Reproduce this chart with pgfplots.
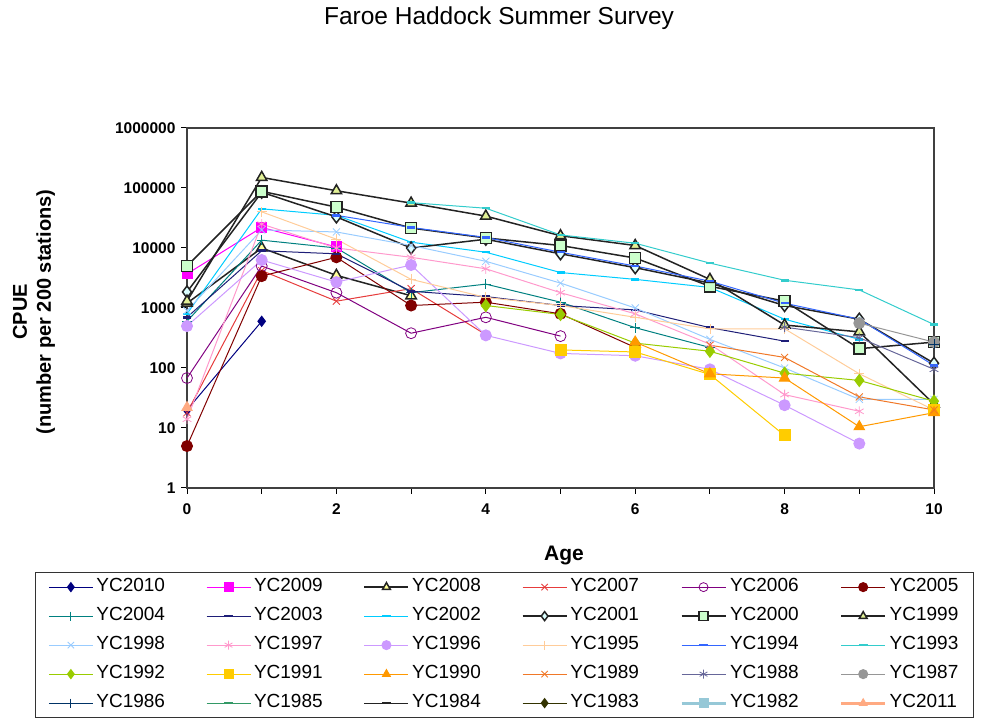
\documentclass[border=0pt]{standalone}
\usepackage{pgfplots}
\pgfplotsset{compat=1.18}
\usepackage{fontspec}
\setmainfont{Liberation Sans}

\definecolor{cNavy}{RGB}{0,0,128}
\definecolor{cMag}{RGB}{255,0,255}
\definecolor{cTriY}{RGB}{255,255,153}
\definecolor{cRed}{RGB}{230,60,60}
\definecolor{cPurp}{RGB}{128,0,128}
\definecolor{cDRed}{RGB}{128,0,0}
\definecolor{cTeal}{RGB}{0,128,128}
\definecolor{cNavy2}{RGB}{30,30,120}
\definecolor{cCyan}{RGB}{0,204,255}
\definecolor{cDiaF}{RGB}{220,255,255}
\definecolor{cSqF}{RGB}{204,255,204}
\definecolor{cTriG}{RGB}{225,240,150}
\definecolor{cLBlue}{RGB}{153,204,255}
\definecolor{cPink}{RGB}{255,153,204}
\definecolor{cLilac}{RGB}{204,153,255}
\definecolor{cPeach}{RGB}{255,204,153}
\definecolor{cBlue}{RGB}{51,102,255}
\definecolor{cTurq}{RGB}{51,204,204}
\definecolor{cYG}{RGB}{153,204,0}
\definecolor{cGold}{RGB}{255,204,0}
\definecolor{cOrange}{RGB}{255,153,0}
\definecolor{cOrange2}{RGB}{240,120,40}
\definecolor{cPG}{RGB}{102,102,153}
\definecolor{cGray}{RGB}{150,150,150}
\definecolor{cDk}{RGB}{0,51,102}
\definecolor{cSea}{RGB}{51,153,102}
\definecolor{cBlk}{RGB}{35,35,35}
\definecolor{cOlive}{RGB}{51,51,0}
\definecolor{cIce}{RGB}{150,200,215}
\definecolor{cSalmon}{RGB}{255,170,130}

\begin{document}
\begin{tikzpicture}
\useasboundingbox (0,0) rectangle (987pt,722pt);
\begin{axis}[
    at={(187pt,234pt)}, anchor=south west,
    scale only axis, width=747pt, height=360pt,
    ymode=log, ymin=1, ymax=1000000, xmin=0, xmax=10,
    ytick={1,10,100,1000,10000,100000,1000000},
    yticklabels={1,10,100,1000,10000,100000,1000000},
    yminorticks=false,
    xtick={0,...,10}, xticklabels={0,,2,,4,,6,,8,,10},
    tick align=outside, major tick length=6pt,
    xtick pos=left, ytick pos=left,
    tick style={black, line width=1pt},
    ticklabel style={font=\fontsize{15.5}{16}\selectfont\bfseries},
    yticklabel style={xshift=-2pt},
    xticklabel style={yshift=-6pt},
    axis line style={line width=1.2pt, black!75},
    clip=false,
    unbounded coords=jump,
    every axis plot/.append style={line width=1pt, mark options={solid, line width=0.8pt}},
    legend columns=6,
    legend cell align=left,
    legend style={at={(-0.2035,-0.2333)}, anchor=north west, draw=black!80,
        line width=0.8pt, font=\fontsize{19}{21}\selectfont,
        inner xsep=13pt, inner ysep=4pt,
        nodes={inner sep=2pt, text height=13.5pt, text depth=4pt},
        row sep=7.5pt,
        /tikz/every even column/.append style={column sep=39pt}},
    legend image code/.code={\draw[mark repeat=2,mark phase=2,#1,mark size=4.5pt]
        plot coordinates {(0pt,0pt) (22pt,0pt) (44pt,0pt)};
        \path (45pt,0pt);},
]
% YC2010
\addplot[cNavy, mark=diamond*, mark size=5pt, mark options={fill=cNavy}]
  coordinates {(0,20) (1,600)};
\addlegendentry{YC2010}
% YC2009
\addplot[cMag, mark=square*, mark size=5pt, mark options={fill=cMag}]
  coordinates {(0,3700) (1,22000) (2,10400)};
\addlegendentry{YC2009}
% YC2008
\addplot[cBlk, line width=1.5pt, mark=triangle*, mark size=6pt, mark options={fill=cTriY, draw=cBlk}]
  coordinates {(0,1200) (1,10000) (2,3500) (3,1600)};
\addlegendentry{YC2008}
% YC2007
\addplot[cRed, mark=x, mark size=5pt]
  coordinates {(0,18) (1,4200) (2,1300) (3,2100) (4,360)};
\addlegendentry{YC2007}
% YC2006
\addplot[cPurp, mark=o, mark size=5.5pt]
  coordinates {(0,68) (1,5000) (2,1800) (3,380) (4,700) (5,340)};
\addlegendentry{YC2006}
% YC2005
\addplot[cDRed, mark=*, mark size=5.5pt, mark options={fill=cDRed}]
  coordinates {(0,5) (1,3400) (2,7000) (3,1100) (4,1250) (5,800) (6,220)};
\addlegendentry{YC2005}
% YC2004
\addplot[cTeal, mark=+, mark size=5pt]
  coordinates {(0,600) (1,13500) (2,10000) (3,1800) (4,2500) (5,1250) (6,470) (7,220)};
\addlegendentry{YC2004}
% YC2003
\addplot[cNavy2, mark=-, mark size=4pt, mark options={line width=2.5pt}]
  coordinates {(0,700) (1,9000) (2,8000) (3,1900) (4,1550) (5,1100) (6,930) (7,470) (8,280)};
\addlegendentry{YC2003}
% YC2002
\addplot[cCyan, mark=-, mark size=4pt, mark options={line width=2.5pt}]
  coordinates {(0,800) (1,45000) (2,35000) (3,12500) (4,8500) (5,3900) (6,3000) (7,2200) (8,650) (9,300)};
\addlegendentry{YC2002}
% YC2001
\addplot[cBlk, line width=1.5pt, mark=diamond*, mark size=6pt, mark options={fill=cDiaF, draw=cBlk}]
  coordinates {(0,1850) (1,85000) (2,33000) (3,10000) (4,14000) (5,8000) (6,4700) (7,2600) (8,1100) (9,650) (10,120)};
\addlegendentry{YC2001}
% YC2000
\addplot[cBlk, line width=1.5pt, mark=square*, mark size=5.5pt, mark options={fill=cSqF, draw=cBlk}]
  coordinates {(0,5000) (1,88000) (2,48000) (3,21500) (4,14700) (5,11000) (6,6800) (7,2300) (8,1300) (9,210) (10,270)};
\addlegendentry{YC2000}
% YC1999
\addplot[cBlk, line width=1.5pt, mark=triangle*, mark size=6pt, mark options={fill=cTriG, draw=cBlk}]
  coordinates {(0,1300) (1,150000) (2,90000) (3,56000) (4,34000) (5,16000) (6,11000) (7,3000) (8,520) (9,400) (10,25)};
\addlegendentry{YC1999}
% YC1998
\addplot[cLBlue, mark=x, mark size=5pt]
  coordinates {(0,900) (1,20000) (2,18500) (3,11000) (4,6000) (5,2600) (6,1000) (7,300) (8,100) (9,30) (10,30)};
\addlegendentry{YC1998}
% YC1997
\addplot[cPink, mark=asterisk, mark size=5pt]
  coordinates {(0,14) (1,25000) (2,10000) (3,7000) (4,4500) (5,1800) (6,800) (7,250) (8,36) (9,19)};
\addlegendentry{YC1997}
% YC1996
\addplot[cLilac, mark=*, mark size=5.5pt, mark options={fill=cLilac}]
  coordinates {(0,500) (1,6300) (2,2700) (3,5200) (4,350) (5,175) (6,160) (7,95) (8,24) (9,5.5)};
\addlegendentry{YC1996}
% YC1995
\addplot[cPeach, mark=+, mark size=5pt]
  coordinates {(1,40000) (2,14000) (3,3000) (4,1500) (5,1100) (6,700) (7,450) (8,450) (9,80) (10,20)};
\addlegendentry{YC1995}
% YC1994
\addplot[cBlue, mark=-, mark size=4pt, mark options={line width=2.5pt}]
  coordinates {(2,35000) (3,22000) (4,15000) (5,8500) (6,5000) (7,2800) (8,1200) (9,650) (10,110)};
\addlegendentry{YC1994}
% YC1993
\addplot[cTurq, mark=-, mark size=4pt, mark options={line width=2.5pt}]
  coordinates {(3,57000) (4,46000) (5,16500) (6,12000) (7,5600) (8,2900) (9,2000) (10,530)};
\addlegendentry{YC1993}
% YC1992
\addplot[cYG, mark=diamond*, mark size=6pt, mark options={fill=cYG}]
  coordinates {(4,1100) (5,780) (6,260) (7,190) (8,82) (9,62) (10,28)};
\addlegendentry{YC1992}
% YC1991
\addplot[cGold, mark=square*, mark size=5.5pt, mark options={fill=cGold}]
  coordinates {(5,200) (6,185) (7,78) (8,7.5) (9,nan) (10,20)};
\addlegendentry{YC1991}
% YC1990
\addplot[cOrange, mark=triangle*, mark size=6pt, mark options={fill=cOrange}]
  coordinates {(6,270) (7,80) (8,68) (9,10.5) (10,18)};
\addlegendentry{YC1990}
% YC1989
\addplot[cOrange2, mark=x, mark size=5pt]
  coordinates {(7,240) (8,150) (9,33) (10,20)};
\addlegendentry{YC1989}
% YC1988
\addplot[cPG, mark=asterisk, mark size=5pt]
  coordinates {(8,480) (9,320) (10,95)};
\addlegendentry{YC1988}
% YC1987
\addplot[cGray, mark=*, mark size=5.5pt, mark options={fill=cGray}]
  coordinates {(9,560) (10,270)};
\addlegendentry{YC1987}
% YC1986
\addplot[cDk, mark=+, mark size=5pt]
  coordinates {(10,250)};
\addlegendentry{YC1986}
% YC1985 - YC1982: no points inside ages 0-10
\addlegendimage{cSea, line width=1pt, mark=-, mark options={line width=2.5pt}}
\addlegendentry{YC1985}
\addlegendimage{cBlk, line width=1pt, mark=-, mark options={line width=2.5pt}}
\addlegendentry{YC1984}
\addlegendimage{cOlive, line width=1pt, mark=diamond*, mark options={fill=cOlive}}
\addlegendentry{YC1983}
\addlegendimage{cIce, line width=3pt, mark=square*, mark options={fill=cIce, line width=0.8pt}}
\addlegendentry{YC1982}
% YC2011
\addplot[cSalmon, line width=3pt, mark=triangle*, mark size=6pt, mark options={fill=cSalmon, line width=0.8pt}]
  coordinates {(0,22)};
\addlegendentry{YC2011}
\end{axis}
\node[font=\fontsize{24.5}{28}\selectfont] at (499pt,704pt) {Faroe Haddock Summer Survey};
\node[rotate=90, align=center, font=\fontsize{20}{24}\selectfont\bfseries] at (34pt,410pt)
  {CPUE\\(number per 200 stations)};
\node[font=\fontsize{21}{22}\selectfont\bfseries] at (564pt,166pt) {Age};
\end{tikzpicture}
\end{document}
